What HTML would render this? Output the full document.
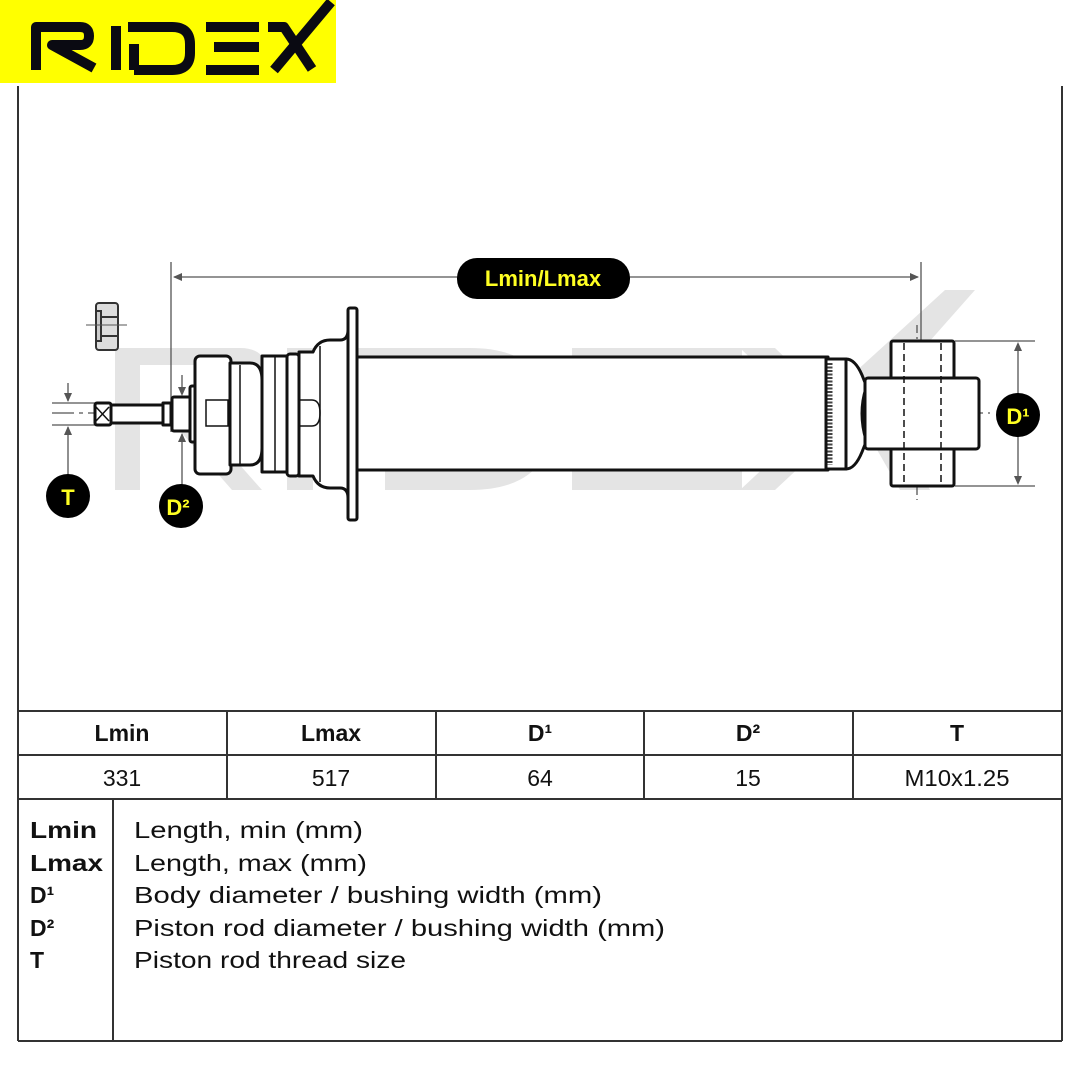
<!DOCTYPE html>
<html><head><meta charset="utf-8"><style>
html,body{margin:0;padding:0;background:#fff}
svg{display:block}
text{font-family:"Liberation Sans",sans-serif}
</style></head><body>
<svg width="1080" height="1080" viewBox="0 0 1080 1080" xmlns="http://www.w3.org/2000/svg">
<rect x="0" y="0" width="336" height="83" fill="#ffff00"/>
<g fill="none" stroke="#0a0a12" stroke-width="10" stroke-linejoin="round" stroke-linecap="butt">
  <path d="M36 70 V27 H80 Q89 27 89 36 Q89 45 80 45 H52 L94 68"/>
  <path d="M116 26 V70"/>
  <path d="M134 70 V44 M128 27 H172 Q190 27 190 44 V53 Q190 70 172 70 H134"/>
  <path d="M206 27 H259 M214 47 H259 M206 70 H259"/>
  <path d="M268 27 H284 L312 69 M274 70 L331 2"/>
</g>
<g stroke="#333" stroke-width="2" fill="none">
  <line x1="18" y1="86" x2="18" y2="1041"/>
  <line x1="1062" y1="86" x2="1062" y2="1041"/>
  <line x1="18" y1="711" x2="1062" y2="711"/>
  <line x1="18" y1="755" x2="1062" y2="755"/>
  <line x1="18" y1="799" x2="1062" y2="799"/>
  <line x1="18" y1="1041" x2="1062" y2="1041"/>
  <line x1="227" y1="711" x2="227" y2="799"/>
  <line x1="436" y1="711" x2="436" y2="799"/>
  <line x1="644" y1="711" x2="644" y2="799"/>
  <line x1="853" y1="711" x2="853" y2="799"/>
  <line x1="113" y1="799" x2="113" y2="1041"/>
</g>
<g fill="#e4e4e4">
  <path d="M115 348 H240 Q268 348 268 376 V392 Q268 420 240 420 H200 L262 490 H232 L175 425 V404 H238 Q245 404 245 396 V372 Q245 365 238 365 H140 V490 H115 Z"/>
  <rect x="287" y="348" width="26" height="142"/>
  <path d="M335 348 H470 Q555 348 555 430 V410 Q555 490 470 490 H385 V420 H410 V468 H465 Q530 468 530 420 Q530 372 465 372 H335 Z"/>
  <rect x="572" y="348" width="170" height="24"/>
  <rect x="600" y="407" width="142" height="24"/>
  <rect x="572" y="466" width="170" height="24"/>
  <polygon points="740,348 775,348 850,420 815,420"/>
  <polygon points="815,420 850,420 775,490 740,490"/>
  <polygon points="860,420 830,395 945,290 975,290"/>
  <polygon points="860,420 895,420 930,490 900,490"/>
</g>
<g stroke="#555" stroke-width="1.3" fill="none">
  <line x1="171" y1="262" x2="171" y2="432"/>
  <line x1="921" y1="262" x2="921" y2="342"/>
  <line x1="174" y1="277" x2="918" y2="277"/>
  <line x1="52" y1="413" x2="990" y2="413" stroke-dasharray="22 5 4 5"/>
  <line x1="52" y1="403" x2="100" y2="403"/>
  <line x1="52" y1="425" x2="100" y2="425"/>
  <line x1="68" y1="383" x2="68" y2="401"/>
  <line x1="68" y1="427" x2="68" y2="478"/>
  <line x1="182" y1="375" x2="182" y2="394"/>
  <line x1="182" y1="434" x2="182" y2="488"/>
  <line x1="955" y1="341" x2="1035" y2="341"/>
  <line x1="955" y1="486" x2="1035" y2="486"/>
  <line x1="1018" y1="344" x2="1018" y2="483"/>
  <line x1="917" y1="325" x2="917" y2="500" stroke-dasharray="8 4 2 4"/>
</g>
<g fill="#555">
  <polygon points="173,277 182,273 182,281"/>
  <polygon points="919,277 910,273 910,281"/>
  <polygon points="68,402 64,393 72,393"/>
  <polygon points="68,426 64,435 72,435"/>
  <polygon points="182,396 178,387 186,387"/>
  <polygon points="182,433 178,442 186,442"/>
  <polygon points="1018,342 1014,351 1022,351"/>
  <polygon points="1018,485 1014,476 1022,476"/>
</g>
<g stroke="#333" stroke-width="2" fill="#ddd">
  <rect x="96" y="303" width="22" height="47" rx="3"/>
  <rect x="96" y="311" width="5" height="30" fill="#ccc"/>
  <line x1="101" y1="317" x2="118" y2="317"/>
  <line x1="101" y1="336" x2="118" y2="336"/>
</g>
<line x1="86" y1="325" x2="127" y2="325" stroke="#555" stroke-width="1"/>
<g stroke="#111" stroke-width="3" fill="#fff" stroke-linejoin="round">
  <rect x="95" y="403" width="16" height="22" rx="2"/>
  <rect x="111" y="405" width="52" height="18"/>
  <rect x="163" y="403" width="8" height="22"/>
  <rect x="172" y="397" width="20" height="34" rx="2"/>
  <rect x="190" y="386" width="8" height="56" rx="2"/>
  <rect x="195" y="356" width="36" height="118" rx="5"/>
  <path d="M230 363 H250 Q262 363 262 380 V448 Q262 465 250 465 H230 Z"/>
  <rect x="262" y="356" width="30" height="116"/>
  <rect x="287" y="354" width="12" height="122" rx="3"/>
  <path d="M299 352 H313 Q318 340 330 340 H340 Q348 340 348 330 V498 Q348 488 340 488 H330 Q318 488 313 476 H299 Z"/>
  <rect x="348" y="308" width="9" height="212" rx="2"/>
  <rect x="357" y="357" width="471" height="113"/>
  <rect x="826" y="359" width="20" height="110"/>
  <path d="M846 359 Q855 359 862 375 L870 395 V432 L862 452 Q855 469 846 469 Z"/>
  <path d="M866 388 Q858 413 866 440" fill="none"/>
  <rect x="891" y="341" width="63" height="145" rx="2"/>
  <rect x="865" y="378" width="114" height="71" rx="3"/>
</g>
<g stroke="#111" stroke-width="1.5" fill="none">
  <line x1="240" y1="365" x2="240" y2="464"/>
  <line x1="275" y1="357" x2="275" y2="471"/>
  <line x1="320" y1="346" x2="320" y2="482"/>
  <rect x="206" y="400" width="22" height="26"/>
  <path d="M299 400 H312 Q320 400 320 413 Q320 426 312 426 H299"/>
  <path d="M96 407 L109 421 M109 407 L96 421"/>
  <line x1="830" y1="363" x2="830" y2="465" stroke-dasharray="2 1.5" stroke-width="5" stroke="#444"/>
  <line x1="904" y1="343" x2="904" y2="484" stroke-dasharray="7 4"/>
  <line x1="941" y1="343" x2="941" y2="484" stroke-dasharray="7 4"/>
</g>
<rect x="457" y="258" width="173" height="41" rx="20" fill="#000"/>
<text x="543" y="286" text-anchor="middle" font-size="22" font-weight="bold" fill="#ffff22">Lmin/Lmax</text>
<circle cx="68" cy="496" r="22" fill="#000"/>
<text x="68" y="505" text-anchor="middle" font-size="22" font-weight="bold" fill="#ffff22">T</text>
<circle cx="181" cy="506" r="22" fill="#000"/>
<text x="178" y="515" text-anchor="middle" font-size="22" font-weight="bold" fill="#ffff22">D²</text>
<circle cx="1018" cy="415" r="22" fill="#000"/>
<text x="1018" y="424" text-anchor="middle" font-size="22" font-weight="bold" fill="#ffff22">D¹</text>
<g font-size="23" text-anchor="middle" fill="#111">
  <text x="122" y="741" font-weight="bold">Lmin</text>
  <text x="331" y="741" font-weight="bold">Lmax</text>
  <text x="540" y="741" font-weight="bold">D¹</text>
  <text x="748" y="741" font-weight="bold">D²</text>
  <text x="957" y="741" font-weight="bold">T</text>
  <text x="122" y="786">331</text>
  <text x="331" y="786">517</text>
  <text x="540" y="786">64</text>
  <text x="748" y="786">15</text>
  <text x="957" y="786" textLength="105" lengthAdjust="spacingAndGlyphs">M10x1.25</text>
</g>
<g font-size="23" fill="#111">
  <text x="30" y="838" font-weight="bold" textLength="67" lengthAdjust="spacingAndGlyphs">Lmin</text>
  <text x="30" y="871" font-weight="bold" textLength="73" lengthAdjust="spacingAndGlyphs">Lmax</text>
  <text x="30" y="903" font-weight="bold">D¹</text>
  <text x="30" y="936" font-weight="bold">D²</text>
  <text x="30" y="968" font-weight="bold">T</text>
  <text x="134" y="838" textLength="229" lengthAdjust="spacingAndGlyphs">Length, min (mm)</text>
  <text x="134" y="871" textLength="233" lengthAdjust="spacingAndGlyphs">Length, max (mm)</text>
  <text x="134" y="903" textLength="468" lengthAdjust="spacingAndGlyphs">Body diameter / bushing width (mm)</text>
  <text x="134" y="936" textLength="531" lengthAdjust="spacingAndGlyphs">Piston rod diameter / bushing width (mm)</text>
  <text x="134" y="968" textLength="272" lengthAdjust="spacingAndGlyphs">Piston rod thread size</text>
</g>
</svg>
</body></html>
